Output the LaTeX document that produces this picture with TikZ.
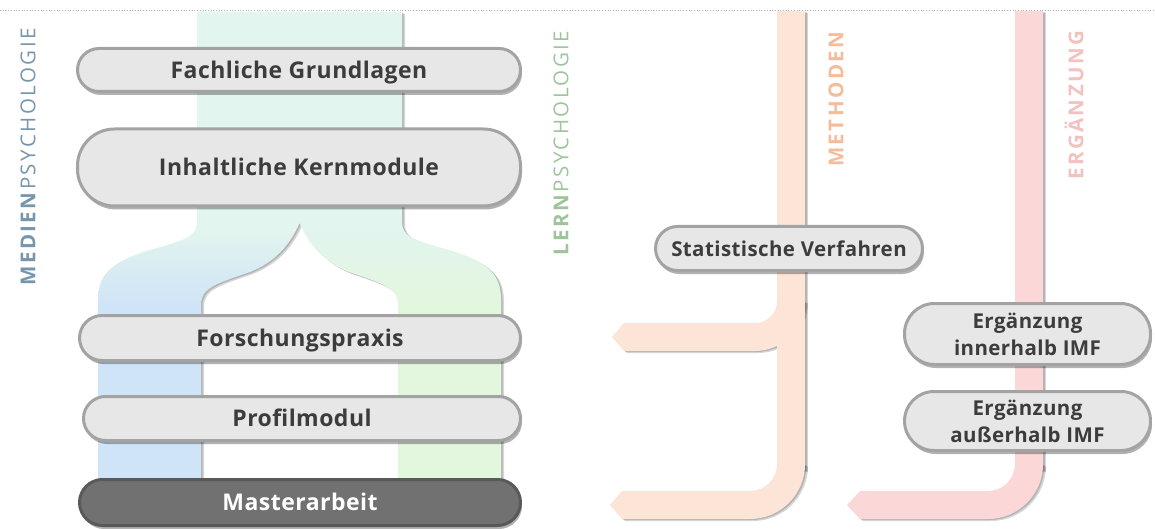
\documentclass[tikz,border=0pt]{standalone}
\usepackage{fontspec}
\setmainfont{Open Sans}[LetterSpace=2]
\newfontfamily\spacedfont{Open Sans}[LetterSpace=12]
\usetikzlibrary{shadows}

\definecolor{mint}{HTML}{E2F5EE}
\definecolor{lblue}{HTML}{D0E4F7}
\definecolor{lgreen}{HTML}{E3F6DE}
\definecolor{methband}{HTML}{FCE4D6}
\definecolor{ergband}{HTML}{FBD8D7}
\definecolor{boxfill}{HTML}{E7E7E7}
\definecolor{boxline}{HTML}{A3A3A3}
\definecolor{boxtext}{HTML}{3C3C3C}
\definecolor{masterfill}{HTML}{717171}
\definecolor{masterline}{HTML}{595959}
\definecolor{medcol}{HTML}{7596AD}
\definecolor{lerncol}{HTML}{9EC49C}
\definecolor{methcol}{HTML}{F5BC9C}
\definecolor{ergcol}{HTML}{F2C2C1}

\newcommand\mintshape{(197,12) -- (197,222) .. controls (197,237) and (185,240) .. (150,250) .. controls (110,262) and (98,275) .. (98,300) -- (98,492) -- (201,492) -- (201,305) .. controls (201,288) and (215,284) .. (250,272) .. controls (275,262) and (290,245) .. (299.5,223) .. controls (309,245) and (324,262) .. (349,272) .. controls (384,284) and (398,288) .. (398,305) -- (398,492) -- (501,492) -- (501,300) .. controls (501,275) and (489,262) .. (449,250) .. controls (414,240) and (402,237) .. (402,222) -- (402,12) -- cycle}
\newcommand\methband{(777,11) rectangle (805,470)}
\newcommand\methmid{(624,323) -- (755,323) .. controls (767.15,323) and (777,313.15) .. (777,301) -- (805,301) .. controls (805,328.6) and (782.6,351) .. (755,351) -- (624,351) -- (612,337) -- cycle}
\newcommand\methbot{(622,491) -- (750,491) .. controls (764.9,491) and (777,478.9) .. (777,464) -- (805,464) .. controls (805,494.4) and (780.4,519) .. (750,519) -- (622,519) -- (610,505) -- cycle}
\newcommand\ergband{(1015,11) rectangle (1043,470)}
\newcommand\ergbot{(860,491) -- (988,491) .. controls (1002.9,491) and (1015,478.9) .. (1015,464) -- (1043,464) .. controls (1043,494.4) and (1018.4,519) .. (988,519) -- (860,519) -- (847,505) -- cycle}

\tikzset{
  pill/.style={draw=boxline, line width=3pt, fill=boxfill, text=boxtext,
    font=\bfseries\fontsize{23}{27}\selectfont, align=center, inner sep=0pt,
    text height=16.5pt, text depth=0pt,
    rounded corners=#1,
    drop shadow={shadow xshift=1.5pt, shadow yshift=-3.5pt, opacity=0.3, fill=black}},
  smallpill/.style={pill=#1, font=\bfseries\fontsize{20.5}{27}\selectfont, text height=15pt},
  twoline/.style={text height=42pt},
  master/.style={fill=masterfill, draw=masterline, text=white},
  sidetext/.style={rotate=90, inner sep=0pt, font=\spacedfont\fontsize{20.5}{20.5}\selectfont},
  bandshadow/.style={fill=black, opacity=0.16},
  guide/.style={draw=black!30, dotted, line width=0.7pt}
}

\begin{document}
\begin{tikzpicture}[x=1pt, y=-1pt]
\useasboundingbox (0,0) rectangle (1155,529);

% dotted guide line
\coordinate (gl) at (0,10);
\coordinate (gr) at (1155,10);
\draw[guide] (gl) -- (gr);

% shadows of the bands
\foreach \dx/\dy in {1.5/1, 3/2}{
  \fill[bandshadow, shift={(\dx,\dy)}] \mintshape;
  \fill[bandshadow, shift={(\dx,\dy)}] \methband;
  \fill[bandshadow, shift={(\dx,\dy)}] \methmid;
  \fill[bandshadow, shift={(\dx,\dy)}] \methbot;
  \fill[bandshadow, shift={(\dx,\dy)}] \ergband;
  \fill[bandshadow, shift={(\dx,\dy)}] \ergbot;
}

% central band with branches
\begin{scope}
  \clip \mintshape;
  \fill[mint] (90,0) rectangle (510,228);
  \shade[top color=mint, bottom color=lblue] (90,228) rectangle (299.5,305);
  \shade[top color=mint, bottom color=lgreen] (299.5,228) rectangle (510,305);
  \fill[lblue] (90,304) rectangle (299.5,500);
  \fill[lgreen] (299.5,304) rectangle (510,500);
\end{scope}

% side bands
\fill[methband] \methband;
\fill[methband] \methmid;
\fill[methband] \methbot;
\fill[ergband] \ergband;
\fill[ergband] \ergbot;

% side labels
\node[sidetext, text=medcol] (medien) at (28,157) {\textbf{MEDIEN}PSYCHOLOGIE};
\node[sidetext, text=lerncol] (lern) at (561,143) {\textbf{LERN}PSYCHOLOGIE};
\node[sidetext, text=methcol] (meth) at (836,98) {\textbf{METHODEN}};
\node[sidetext, text=ergcol] (erg) at (1074,104) {\textbf{ERGÄNZUNG}};

% boxes
\node[pill=21.5, minimum width=443pt, minimum height=43pt] (fg) at (299,70) {Fachliche Grundlagen};
\node[pill=37, minimum width=443pt, minimum height=77pt] (km) at (299,167.5) {Inhaltliche Kernmodule};
\node[pill=22.5, minimum width=441pt, minimum height=45pt] (fp) at (300,338) {Forschungspraxis};
\node[pill=22, minimum width=437pt, minimum height=44pt] (pm) at (302,418.5) {Profilmodul};
\node[pill=23, master, minimum width=441pt, minimum height=46pt] (ma) at (300,502.5) {Masterarbeit};
\node[smallpill=22, minimum width=267pt, minimum height=44pt] (sv) at (789,248.5) {Statistische Verfahren};
\node[smallpill=30, twoline, minimum width=246pt, minimum height=61pt] (ei) at (1027.5,334) {Ergänzung\\innerhalb IMF};
\node[smallpill=29.5, twoline, minimum width=246pt, minimum height=59pt] (ea) at (1027.5,421) {Ergänzung\\außerhalb IMF};
\end{tikzpicture}
\end{document}
